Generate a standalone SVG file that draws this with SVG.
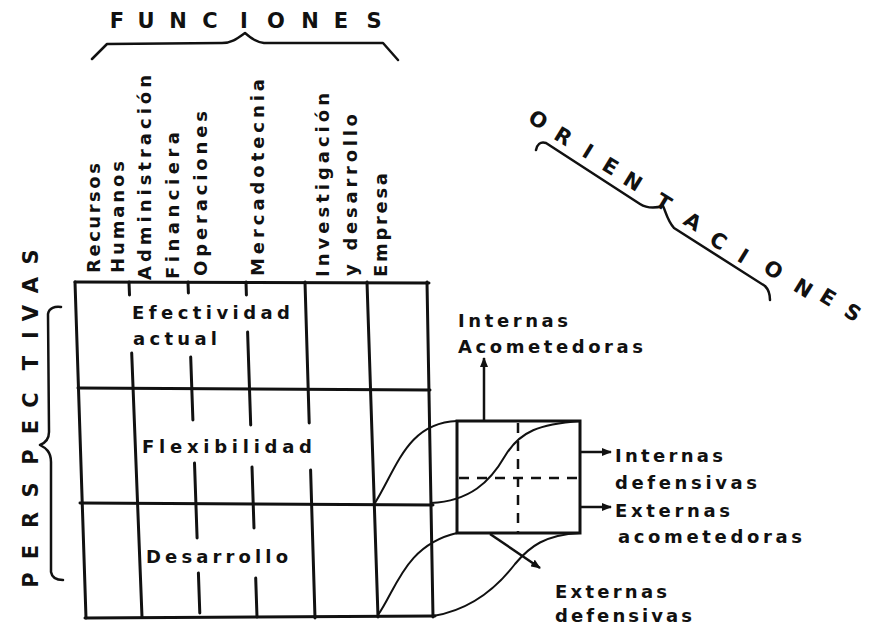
<svg xmlns="http://www.w3.org/2000/svg" width="869" height="628" viewBox="0 0 869 628">
<defs>
<style>
.title{font-family:"DejaVu Sans","Liberation Sans",sans-serif;font-size:21px;font-weight:bold;fill:#111}
.lbl{font-family:"DejaVu Sans","Liberation Sans",sans-serif;font-size:18px;font-weight:bold;fill:#111}
.grid{stroke:#111;stroke-width:3;fill:none;stroke-linecap:round}
.thin{stroke:#111;stroke-width:2;fill:none;stroke-linecap:round}
.brace{stroke:#111;stroke-width:2.5;fill:none;stroke-linecap:round;stroke-linejoin:round}
.dash{stroke:#111;stroke-width:2.5;fill:none;stroke-dasharray:10 8}
.arr{stroke:#111;stroke-width:2.5;fill:none;marker-end:url(#ah)}
</style>
<marker id="ah" viewBox="0 0 10 8" refX="9" refY="4" markerWidth="10" markerHeight="8" markerUnits="userSpaceOnUse" orient="auto">
<path d="M0,0 L10,4 L0,8 z" fill="#111"/>
</marker>
</defs>
<rect width="869" height="628" fill="#fff"/>

<g id="funciones">
<text class="title" text-anchor="middle" x="117 146 178 210 244 276 310 341 374" y="28">FUNCIONES</text>
<path class="brace" d="M92,59 L107,44 L222,43 C232,43 238,38 245,33 C251,38 256,42 264,43 L383,43 L398,60"/>
</g>

<g id="orientaciones">
<text class="title" text-anchor="middle" transform="translate(538,120) rotate(31.5)" x="0 30 59 86 113 150 185 217 246 279 314 340 369" y="7 8 8 9 10 12 13 16 16 12 12 7 7">ORIENTACIONES</text>
<path class="brace" d="M536,150 C537,145 540,141 546,143 L640,204 C648,209 656,208 663,206 C666,212 667,220 674,228 L765,286 C769,290 770,295 770,300"/>
</g>

<g id="perspectivas">
<text class="title" text-anchor="middle" transform="translate(38,0) rotate(-90)" x="-580 -552 -520 -490 -457 -427 -400 -363 -335 -313 -285 -257" y="0">PERSPECTIVAS</text>
<path class="brace" d="M61,307 C55,306 49,308 48,314 L49,432 C49,440 45,443 40,445 C46,448 51,452 51,462 L51,572 C52,578 57,580 63,580"/>
</g>

<g id="columnas">
<text class="lbl" transform="translate(100,273) rotate(-90)" textLength="110" lengthAdjust="spacing">Recursos</text>
<text class="lbl" transform="translate(124,273) rotate(-90)" textLength="112" lengthAdjust="spacing">Humanos</text>
<text class="lbl" transform="translate(151,280) rotate(-90)" textLength="205" lengthAdjust="spacing">Administración</text>
<text class="lbl" transform="translate(179,279) rotate(-90)" textLength="147" lengthAdjust="spacing">Financiera</text>
<text class="lbl" transform="translate(207,276) rotate(-90)" textLength="165" lengthAdjust="spacing">Operaciones</text>
<text class="lbl" transform="translate(264,276) rotate(-90)" textLength="197" lengthAdjust="spacing">Mercadotecnia</text>
<text class="lbl" transform="translate(329,277) rotate(-90)" textLength="184" lengthAdjust="spacing">Investigación</text>
<text class="lbl" transform="translate(357,276) rotate(-90)" textLength="162" lengthAdjust="spacing">y desarrollo</text>
<text class="lbl" transform="translate(387,277) rotate(-90)" textLength="104" lengthAdjust="spacing">Empresa</text>
</g>

<g id="matriz">
<path class="grid" d="M75,282 L429,283 M78,388 L430,390 M80,503 L433,505 M85,618 L435,616"/>
<path class="grid" d="M75,282 L86,618"/>
<path class="grid" d="M129,282 L129.5,295 M131.7,353 L142,617"/>
<path class="grid" d="M188,282 L188.4,293 M190.7,357 L192.9,420 M194.5,463 L197.1,538 M198.4,573 L199.8,613"/>
<path class="grid" d="M246,282 L246.4,295 M247.6,332 L250.7,425 M252,467 L254,528 M255.7,578 L257,617"/>
<path class="grid" d="M305,282 L309.2,423 M310.6,470 L315,618"/>
<path class="grid" d="M367,282 L378,617"/>
<path class="grid" d="M427,282 L433,617"/>
<text class="lbl" x="132" y="319" textLength="158" lengthAdjust="spacing">Efectividad</text>
<text class="lbl" x="133" y="345" textLength="84" lengthAdjust="spacing">actual</text>
<text class="lbl" x="142" y="453" textLength="170" lengthAdjust="spacing">Flexibilidad</text>
<text class="lbl" x="146" y="563" textLength="142" lengthAdjust="spacing">Desarrollo</text>
</g>

<g id="caja">
<rect x="457" y="421" width="123" height="112" class="grid"/>
<path class="dash" d="M459,478 L579,478"/>
<path class="dash" d="M518,423 L518,532"/>
</g>

<g id="conectores">
<path class="thin" d="M375,503 C398,465 408,423 457,421"/>
<path class="thin" d="M431,503 C470,501 490,482 505,456 C520,431 540,424 580,421"/>
<path class="thin" d="M378,615 C396,590 405,545 457,533"/>
<path class="thin" d="M433,616 C470,610 495,590 515,564 C530,546 545,535 580,533"/>
<path class="arr" d="M484,421 L484,358"/>
<path class="arr" d="M580,452 L611,452"/>
<path class="arr" d="M580,507 L611,507"/>
<path class="arr" d="M490,534 L540,568"/>
</g>

<g id="orientacion-labels">
<text class="lbl" x="458" y="327" textLength="110" lengthAdjust="spacing">Internas</text>
<text class="lbl" x="458" y="353" textLength="185" lengthAdjust="spacing">Acometedoras</text>
<text class="lbl" x="615" y="462" textLength="108" lengthAdjust="spacing">Internas</text>
<text class="lbl" x="615" y="489" textLength="142" lengthAdjust="spacing">defensivas</text>
<text class="lbl" x="615" y="517" textLength="115" lengthAdjust="spacing">Externas</text>
<text class="lbl" x="618" y="543" textLength="184" lengthAdjust="spacing">acometedoras</text>
<text class="lbl" x="555" y="598" textLength="112" lengthAdjust="spacing">Externas</text>
<text class="lbl" x="555" y="622" textLength="137" lengthAdjust="spacing">defensivas</text>
</g>
</svg>
